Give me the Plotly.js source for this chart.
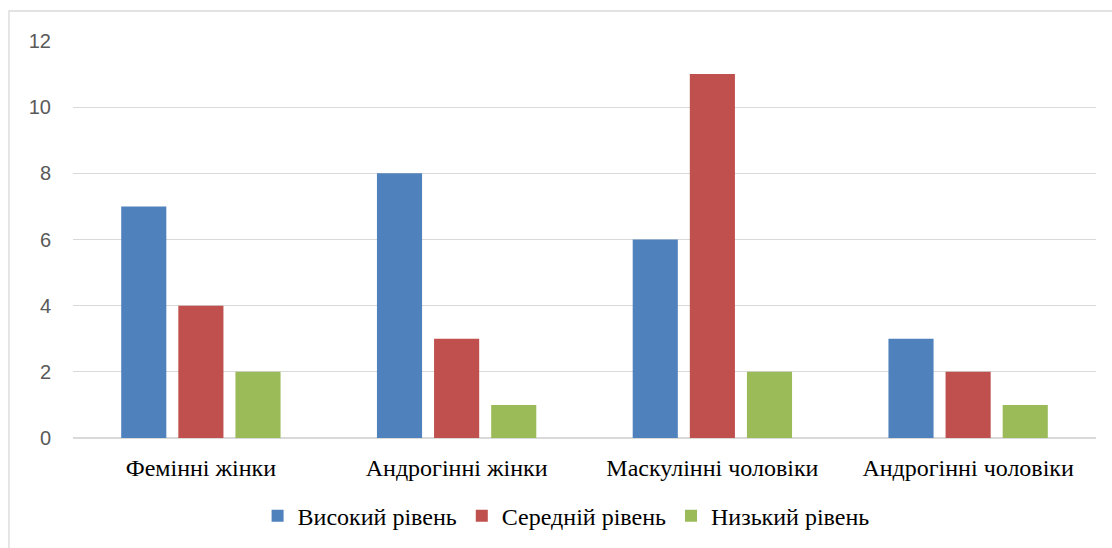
<!DOCTYPE html>
<html><head><meta charset="utf-8">
<script src="https://cdn.plot.ly/plotly-3.0.1.min.js"></script>
<style>html,body{margin:0;padding:0;background:#fff;}#c{width:1112px;height:548px;}</style>
</head><body><div id="c"></div>
<script>
const categories = ['Фемінні жінки', 'Андрогінні жінки', 'Маскулінні чоловіки', 'Андрогінні чоловіки'];
const seriesNames = ['Високий рівень', 'Середній рівень', 'Низький рівень'];
const high = [7, 8, 6, 3];
const mid = [4, 3, 11, 2];
const low = [2, 1, 2, 1];
const colors = ['#4F81BD', '#C0504D', '#9BBB59'];
const tickVals = [0, 2, 4, 6, 8, 10, 12];

const serif = "Liberation Serif";
const sans = "Liberation Sans";

const data = [high, mid, low].map((v, i) => ({
  type: 'bar', x: categories, y: v, name: seriesNames[i],
  marker: {color: colors[i], line: {width: 0}}, hoverinfo: 'skip'
}));

const layout = {
  width: 1112, height: 548,
  margin: {l: 73, r: 16, t: 41, b: 110, autoexpand: false},
  paper_bgcolor: '#fff', plot_bgcolor: '#fff',
  barmode: 'group', bargap: 0.33, bargroupgap: 0.21,
  showlegend: true,
  legend: {orientation: 'h', x: 0.482, xanchor: 'center', y: -0.197, yanchor: 'middle',
    font: {family: serif, size: 24, color: '#000'}, itemwidth: 30, traceorder: 'normal'},
  xaxis: {tickfont: {family: serif, size: 24, color: '#000'}, showline: false, ticks: '', showgrid: false,
    ticklabelstandoff: 13, automargin: false},
  yaxis: {range: [0, 12], tickvals: tickVals, showgrid: true, gridcolor: '#D9D9D9', gridwidth: 1.3,
    zeroline: true, zerolinecolor: '#D9D9D9', zerolinewidth: 1.3, automargin: false,
    tickfont: {family: sans, size: 20, color: '#595959'}, ticklabelstandoff: 21},
  shapes: [{type: 'rect', xref: 'paper', yref: 'paper', x0: -0.0626, x1: 1.2, y0: -0.4, y1: 1.0756,
    line: {color: '#D9D9D9', width: 1.3}, fillcolor: 'rgba(0,0,0,0)', layer: 'below'}]
};
Plotly.newPlot('c', data, layout, {displayModeBar: false, staticPlot: true});
</script></body></html>
